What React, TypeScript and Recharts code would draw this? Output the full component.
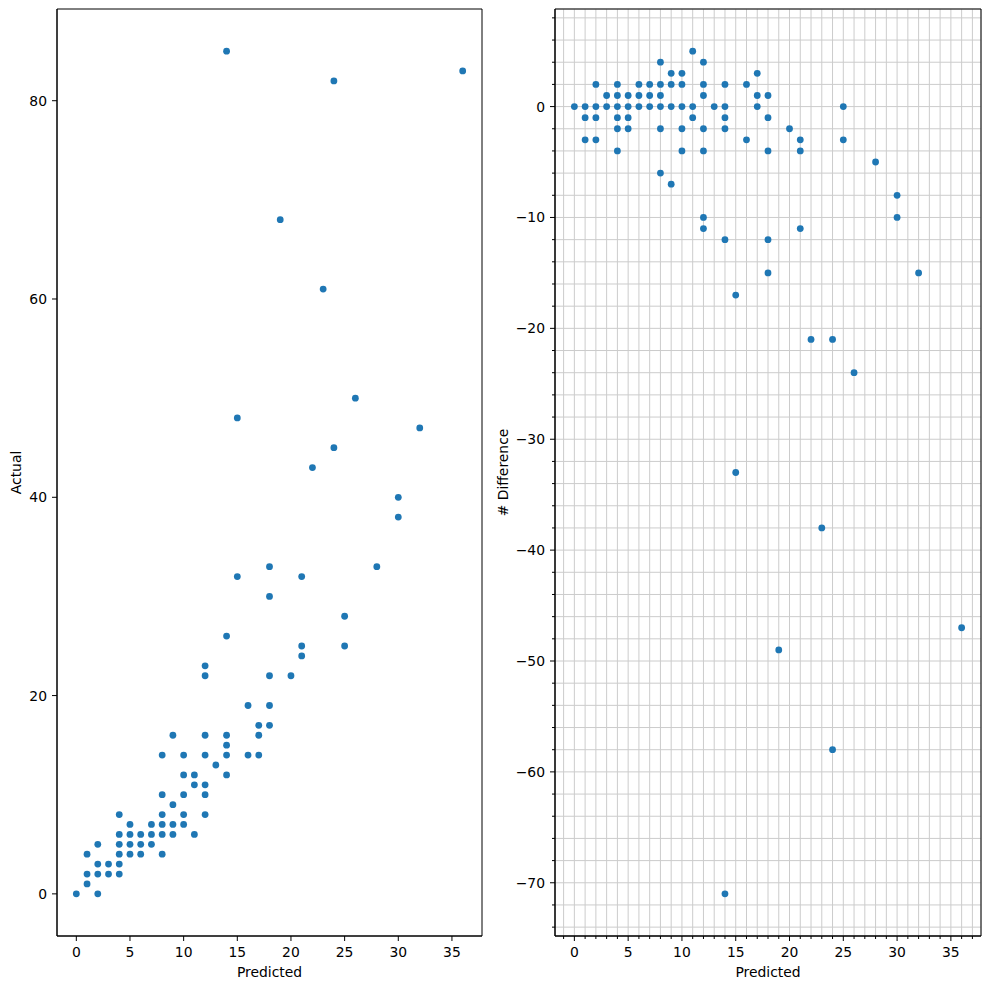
import { ScatterChart, Scatter, XAxis, YAxis, CartesianGrid, ReferenceArea } from "recharts";

// one entry per point, same order in all three arrays
const predicted = [
  0, 1, 1, 1, 2, 2, 2, 2, 3, 3, 4, 4, 4, 4, 4, 4, 5, 5, 5, 5, 6, 6, 6, 7, 7, 7,
  8, 8, 8, 8, 8, 8, 9, 9, 9, 9, 10, 10, 10, 10, 10, 11, 11, 11,
  12, 12, 12, 12, 12, 12, 12, 13, 14, 14, 14, 14, 14, 14, 15, 15, 16, 16,
  17, 17, 17, 18, 18, 18, 18, 18, 19, 20, 21, 21, 21, 22, 23, 24, 24,
  25, 25, 26, 28, 30, 30, 32, 36,
];
const actual = [
  0, 1, 2, 4, 0, 2, 3, 5, 2, 3, 2, 3, 4, 5, 6, 8, 4, 5, 6, 7, 4, 5, 6, 5, 6, 7,
  4, 6, 7, 8, 10, 14, 6, 7, 9, 16, 7, 8, 10, 12, 14, 6, 11, 12,
  8, 10, 11, 14, 16, 22, 23, 13, 12, 14, 15, 16, 26, 85, 32, 48, 14, 19,
  14, 16, 17, 17, 19, 22, 30, 33, 68, 22, 24, 25, 32, 43, 61, 45, 82,
  25, 28, 50, 33, 38, 40, 47, 83,
];
const difference = [
  0, 0, -1, -3, 2, 0, -1, -3, 1, 0, 2, 1, 0, -1, -2, -4, 1, 0, -1, -2, 2, 1, 0, 2, 1, 0,
  4, 2, 1, 0, -2, -6, 3, 2, 0, -7, 3, 2, 0, -2, -4, 5, 0, -1,
  4, 2, 1, -2, -4, -10, -11, 0, 2, 0, -1, -2, -12, -71, -17, -33, 2, -3,
  3, 1, 0, 1, -1, -4, -12, -15, -49, -2, -3, -4, -11, -21, -38, -21, -58,
  0, -3, -24, -5, -8, -10, -15, -47,
];

const predictedTicks = [0, 5, 10, 15, 20, 25, 30, 35];
const actualTicks = [0, 20, 40, 60, 80];
const predictedMinorTicks = [
  -1, 0, 1, 2, 3, 4, 5, 6, 7, 8, 9, 10, 11, 12, 13, 14, 15, 16, 17, 18, 19,
  20, 21, 22, 23, 24, 25, 26, 27, 28, 29, 30, 31, 32, 33, 34, 35, 36, 37,
];
const differenceTicks = [-70, -60, -50, -40, -30, -20, -10, 0];
const differenceMinorTicks = [
  -74, -72, -70, -68, -66, -64, -62, -60, -58, -56, -54, -52, -50, -48, -46, -44, -42,
  -40, -38, -36, -34, -32, -30, -28, -26, -24, -22, -20, -18, -16, -14, -12, -10,
  -8, -6, -4, -2, 0, 2, 4, 6, 8,
];

const xDomain: [number, number] = [-1.8, 37.8];
const actualDomain: [number, number] = [-4.25, 89.25];
const diffDomain: [number, number] = [-74.8, 8.8];

const leftData = predicted.map((p, i) => ({ x: p, y: actual[i] }));
const rightData = predicted.map((p, i) => ({ x: p, y: difference[i] }));

const FONT = "DejaVu Sans, sans-serif";
const FS = 13.9;
const BLUE = "#1f77b4";

const fmt = (v: number) => (v < 0 ? "\u2212" + Math.abs(v) : String(v));

const bottomTick = (major: number[]) => (props: any) => {
  const { x, y, payload } = props;
  const isMajor = major.includes(payload.value);
  const len = isMajor ? 5 : 3;
  return (
    <g>
      <line x1={x} x2={x} y1={y} y2={y + len} stroke="#000" strokeWidth={1} />
      {isMajor && (
        <text x={x} y={y + 10} dy="0.76em" textAnchor="middle" fontSize={FS} fontFamily={FONT} fill="#000">
          {fmt(payload.value)}
        </text>
      )}
    </g>
  );
};

const leftTick = (major: number[]) => (props: any) => {
  const { x, y, payload } = props;
  const isMajor = major.includes(payload.value);
  const len = isMajor ? 5 : 3;
  return (
    <g>
      <line x1={x - len} x2={x} y1={y} y2={y} stroke="#000" strokeWidth={1} />
      {isMajor && (
        <text x={x - 10} y={y} dy="0.36em" textAnchor="end" fontSize={FS} fontFamily={FONT} fill="#000">
          {fmt(payload.value)}
        </text>
      )}
    </g>
  );
};

const yLabel = (text: string, cx: number) => (props: any) => {
  const vb = props.viewBox;
  const cy = vb.y + vb.height / 2;
  return (
    <text
      transform={`translate(${vb.x + cx}, ${cy}) rotate(-90)`}
      textAnchor="middle"
      dominantBaseline="central"
      fontSize={FS}
      fontFamily={FONT}
      fill="#000"
    >
      {text}
    </text>
  );
};

const dot = (props: any) => <circle cx={props.cx} cy={props.cy} r={3.4} fill={BLUE} />;

const xLabel = { value: "Predicted", position: "insideBottom" as const, offset: 12, fill: "#000", fontSize: FS, fontFamily: FONT };

export default function App() {
  return (
    <div style={{ position: "absolute", left: 0, top: 0, width: 989, height: 989, background: "#fff" }}>
      <div style={{ position: "absolute", left: 0, top: 0 }}>
        <ScatterChart width={495} height={989} margin={{ top: 9, right: 13, bottom: 0, left: 0 }}>
          <XAxis
            dataKey="x"
            type="number"
            domain={xDomain}
            allowDataOverflow
            ticks={predictedTicks}
            interval={0}
            height={53}
            tickSize={0}
            tickMargin={0}
            tickLine={false}
            tick={bottomTick(predictedTicks)}
            axisLine={{ stroke: "#000" }}
            label={xLabel}
          />
          <YAxis
            dataKey="y"
            type="number"
            domain={actualDomain}
            allowDataOverflow
            ticks={actualTicks}
            interval={0}
            width={57}
            tickSize={0}
            tickMargin={0}
            tickLine={false}
            tick={leftTick(actualTicks)}
            axisLine={{ stroke: "#000" }}
            label={{ content: yLabel("Actual", 16) }}
          />
          <Scatter data={leftData} fill={BLUE} shape={dot} isAnimationActive={false} />
          <ReferenceArea
            x1={xDomain[0]}
            x2={xDomain[1]}
            y1={actualDomain[0]}
            y2={actualDomain[1]}
            fill="none"
            fillOpacity={0}
            stroke="#000"
            strokeWidth={1}
            ifOverflow="visible"
          />
        </ScatterChart>
      </div>
      <div style={{ position: "absolute", left: 495, top: 0 }}>
        <ScatterChart width={494} height={989} margin={{ top: 9, right: 8, bottom: 0, left: 0 }}>
          <CartesianGrid stroke="#cccccc" strokeWidth={1} />
          <XAxis
            dataKey="x"
            type="number"
            domain={xDomain}
            allowDataOverflow
            ticks={predictedMinorTicks}
            interval={0}
            height={53}
            tickSize={0}
            tickMargin={0}
            tickLine={false}
            tick={bottomTick(predictedTicks)}
            axisLine={{ stroke: "#000" }}
            label={xLabel}
          />
          <YAxis
            dataKey="y"
            type="number"
            domain={diffDomain}
            allowDataOverflow
            ticks={differenceMinorTicks}
            interval={0}
            width={60}
            tickSize={0}
            tickMargin={0}
            tickLine={false}
            tick={leftTick(differenceTicks)}
            axisLine={{ stroke: "#000" }}
            label={{ content: yLabel("# Difference", 8) }}
          />
          <Scatter data={rightData} fill={BLUE} shape={dot} isAnimationActive={false} />
          <ReferenceArea
            x1={xDomain[0]}
            x2={xDomain[1]}
            y1={diffDomain[0]}
            y2={diffDomain[1]}
            fill="none"
            fillOpacity={0}
            stroke="#000"
            strokeWidth={1}
            ifOverflow="visible"
          />
        </ScatterChart>
      </div>
    </div>
  );
}
